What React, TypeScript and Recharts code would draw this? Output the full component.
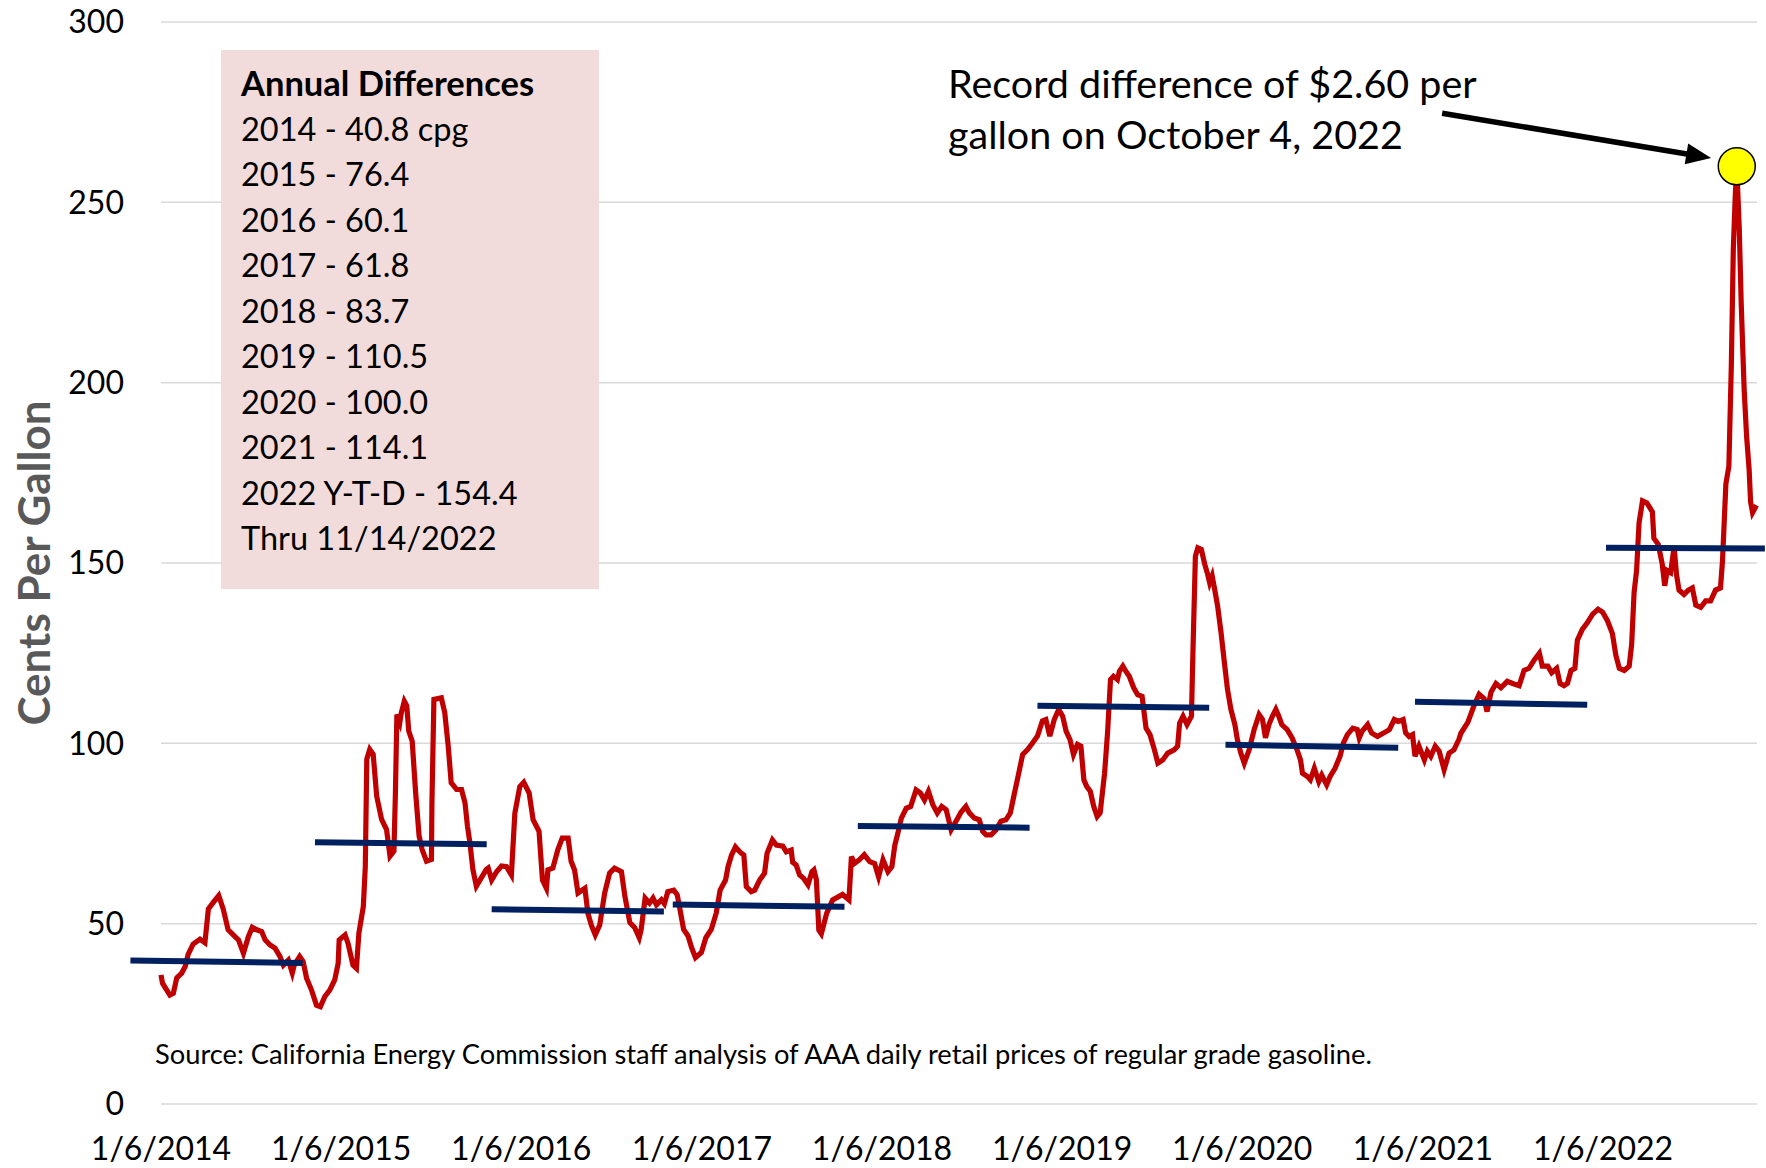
import React from 'react';
import { LineChart, Line, XAxis, YAxis, CartesianGrid, ReferenceLine, ReferenceDot, Label } from 'recharts';

const FONT = 'Lato, "Open Sans", sans-serif';

// x axis: days since 1/6/2014
const xTickDays = [0, 365, 730, 1096, 1461, 1826, 2191, 2557, 2922];
const xTickLabels = ['1/6/2014', '1/6/2015', '1/6/2016', '1/6/2017', '1/6/2018', '1/6/2019', '1/6/2020', '1/6/2021', '1/6/2022'];
const lastDay = 3234; // 11/14/2022
const yTicks = [0, 50, 100, 150, 200, 250, 300];

// [day since 1/6/2014, cents per gallon]
const diff2014: [number, number][] = [
  [0, 35.8], [3, 33.5], [18, 30.2], [25, 30.7], [32, 35.0], [42, 36.3], [49, 38.1], [55, 41.5], [65, 44.3], [79, 45.7],
  [89, 44.7], [96, 54.1], [106, 55.9], [117, 57.8], [126, 54.1], [136, 48.3], [150, 46.4], [157, 45.5], [167, 41.8],
  [177, 46.4], [185, 49.0], [194, 48.3], [204, 47.8], [211, 45.5], [221, 44.1], [231, 43.2], [241, 40.9], [248, 38.5],
  [258, 39.9], [266, 36.3], [270, 38.5], [281, 40.9], [288, 39.5], [295, 34.9], [305, 31.6], [315, 27.4], [323, 27.0],
  [332, 29.8], [342, 31.6], [352, 34.4], [359, 39.0], [361, 45.5],
];
const diff2015: [number, number][] = [
  [373, 46.9], [379, 44.5], [389, 38.5], [396, 37.6], [401, 47.4], [410, 54.8], [414, 65.9], [417, 95.6], [423, 98.3],
  [430, 96.9], [437, 85.4], [447, 78.9], [457, 76.1], [464, 68.7], [472, 70.1], [475, 86.3], [478, 108.0], [484, 105.8],
  [487, 108.5], [493, 111.7], [498, 110.4], [502, 103.4], [509, 100.6], [516, 86.3], [523, 74.3], [529, 70.6], [538, 67.3],
  [548, 67.8], [549, 83.5], [553, 112.2], [568, 112.6], [575, 108.5], [582, 99.2], [588, 89.1], [599, 87.2], [609, 87.2],
  [616, 83.5], [621, 77.0], [626, 72.4], [632, 65.0], [639, 60.4], [649, 62.7], [659, 65.0], [663, 65.4], [670, 62.1],
  [680, 64.4], [690, 66.0], [700, 65.8], [710, 63.5], [717, 80.6], [727, 88.0],
];
const diff2016: [number, number][] = [
  [735, 89.2], [746, 86.2], [754, 78.8], [766, 75.6], [773, 62.1], [781, 59.8], [784, 64.9], [794, 65.4], [804, 70.5],
  [813, 73.7], [825, 73.7], [831, 67.3], [838, 64.9], [845, 58.5], [859, 59.8], [865, 52.9], [872, 49.6], [880, 46.9],
  [889, 49.6], [899, 58.5], [909, 64.0], [919, 65.4], [933, 64.4], [940, 57.6], [950, 50.3], [960, 48.9], [969, 46.1],
  [973, 48.4], [981, 57.1], [990, 55.7], [997, 57.1], [1004, 55.2], [1014, 56.6], [1020, 55.5], [1027, 58.9], [1039, 59.3],
  [1046, 58.0], [1053, 52.9], [1059, 48.4], [1068, 46.6], [1075, 43.4], [1083, 40.6], [1095, 42.0],
];
const diff2017: [number, number][] = [
  [1104, 46.1], [1115, 48.4], [1125, 52.9], [1133, 59.3], [1144, 62.1], [1149, 65.8], [1156, 69.0], [1164, 71.3],
  [1173, 69.9], [1181, 69.0], [1186, 60.3], [1196, 58.9], [1203, 59.3], [1213, 62.1], [1223, 64.0], [1228, 69.5],
  [1239, 73.2], [1247, 71.8], [1260, 71.5], [1267, 69.9], [1277, 70.4], [1280, 67.0], [1287, 66.3], [1294, 63.5],
  [1302, 62.6], [1311, 60.8], [1319, 64.4], [1323, 64.9], [1328, 62.2], [1333, 48.2], [1338, 47.2], [1349, 52.9],
  [1361, 56.6], [1381, 58.1], [1394, 56.6], [1399, 68.6], [1405, 66.7], [1415, 67.7], [1425, 69.1], [1436, 67.2],
  [1446, 66.7], [1454, 63.0],
];
const diff2018: [number, number][] = [
  [1463, 67.7], [1473, 64.4], [1481, 65.8], [1487, 71.8], [1493, 75.0], [1500, 79.2], [1510, 82.0], [1519, 82.5],
  [1530, 87.1], [1539, 86.2], [1547, 84.3], [1555, 86.7], [1564, 83.0], [1573, 80.7], [1582, 82.5], [1591, 81.6],
  [1601, 76.0], [1611, 78.4], [1621, 80.9], [1631, 82.5], [1638, 80.7], [1648, 79.3], [1658, 78.8], [1665, 75.6],
  [1672, 74.6], [1682, 74.6], [1692, 76.0], [1702, 78.4], [1712, 78.8], [1721, 80.7], [1728, 85.3], [1736, 90.4],
  [1746, 96.9], [1756, 98.3], [1766, 100.1], [1776, 102.0], [1786, 106.2], [1793, 106.6], [1801, 102.0], [1810, 106.6],
  [1819, 109.4],
];
const diff2019: [number, number][] = [
  [1827, 107.5], [1834, 103.4], [1842, 101.0], [1849, 96.9], [1857, 99.7], [1864, 99.2], [1870, 89.9], [1876, 88.0],
  [1883, 86.7], [1890, 82.5], [1897, 79.7], [1903, 80.7], [1912, 91.7], [1918, 102.9], [1924, 117.7], [1930, 118.6],
  [1938, 117.7], [1942, 120.0], [1949, 121.4], [1955, 120.0], [1962, 118.6], [1971, 115.4], [1979, 113.5], [1988, 113.0],
  [1996, 104.2], [2004, 102.4], [2013, 98.2], [2020, 94.5], [2030, 95.4], [2040, 97.3], [2053, 98.2], [2060, 99.2],
  [2064, 105.6], [2071, 107.5], [2079, 105.2], [2088, 107.5], [2091, 125.1], [2096, 151.9], [2101, 154.2], [2108, 153.8],
  [2115, 149.6], [2121, 146.8], [2125, 144.5], [2130, 146.4], [2135, 142.7], [2141, 138.1], [2148, 130.7], [2154, 123.3],
  [2161, 115.0], [2168, 109.4], [2176, 105.2], [2181, 101.1], [2188, 97.3],
];
const diff2020: [number, number][] = [
  [2195, 94.5], [2205, 98.2], [2215, 103.8], [2225, 108.0], [2232, 106.6], [2238, 101.5], [2245, 105.2], [2252, 107.5],
  [2259, 109.4], [2265, 107.5], [2271, 105.2], [2282, 103.8], [2292, 101.5], [2302, 98.2], [2309, 95.4], [2313, 91.7],
  [2323, 90.8], [2329, 89.9], [2337, 93.1], [2346, 89.4], [2352, 91.2], [2362, 88.5], [2369, 90.8], [2379, 93.1],
  [2389, 96.4], [2396, 100.1], [2404, 102.4], [2415, 104.2], [2424, 103.8], [2428, 101.5], [2434, 103.4], [2445, 105.2],
  [2453, 102.9], [2465, 101.9], [2478, 102.9], [2489, 103.8], [2499, 106.6], [2507, 106.1], [2517, 106.6], [2522, 102.9],
  [2529, 101.9], [2536, 102.4], [2541, 96.4], [2549, 99.2],
];
const diff2021: [number, number][] = [
  [2560, 95.4], [2566, 97.8], [2573, 96.4], [2582, 99.2], [2590, 97.8], [2600, 92.7], [2610, 97.3], [2620, 98.2],
  [2630, 101.1], [2634, 102.8], [2648, 105.8], [2661, 110.6], [2671, 113.6], [2681, 112.4], [2687, 108.8], [2695, 114.2],
  [2705, 116.6], [2715, 115.4], [2728, 117.2], [2739, 116.6], [2752, 116.0], [2762, 120.2], [2772, 120.8], [2783, 123.2],
  [2793, 125.0], [2799, 121.4], [2810, 121.4], [2818, 119.6], [2828, 120.8], [2835, 116.6], [2843, 116.0], [2850, 116.6],
  [2857, 120.2], [2865, 120.8], [2870, 128.6], [2880, 131.6], [2890, 133.4], [2901, 135.8], [2912, 137.2], [2921, 136.4],
];
const diff2022: [number, number][] = [
  [2931, 134.0], [2941, 130.4], [2948, 124.4], [2955, 120.8], [2965, 120.2], [2975, 121.4], [2980, 127.4], [2985, 141.9],
  [2990, 147.9], [2995, 161.1], [3002, 167.2], [3011, 166.6], [3022, 164.2], [3025, 156.9], [3034, 155.1], [3042, 149.7],
  [3047, 143.7], [3052, 147.9], [3059, 147.3], [3066, 154.5], [3071, 146.7], [3076, 142.5], [3086, 141.3], [3095, 142.5],
  [3103, 143.1], [3110, 138.3], [3120, 137.7], [3130, 139.5], [3140, 139.5], [3150, 142.5], [3160, 143.1], [3164, 150.4],
  [3171, 172.0], [3177, 176.8], [3182, 205.0], [3186, 237.0], [3190, 252.0], [3193, 260.0], [3198, 243.0], [3202, 222.0],
  [3208, 198.0], [3213, 185.0], [3218, 176.0], [3221, 167.0], [3225, 164.0], [3229, 165.0], [3233, 166.0],
];

// Annual average bars as drawn: [startDay, endDay, startValue, endValue]
const annualBars: [number, number, number, number][] = [
  [-62, 287, 39.8, 39.1],
  [312, 660, 72.6, 72.0],
  [670, 1019, 54.0, 53.4],
  [1037, 1385, 55.3, 54.7],
  [1412, 1760, 77.1, 76.6],
  [1776, 2124, 110.4, 109.9],
  [2157, 2507, 99.6, 98.8],
  [2541, 2890, 111.5, 110.7],
  [2928, 3250, 154.2, 154.0],
];

const recordDay = 3193; // 10/4/2022
const recordValue = 260;
const arrowFrom: [number, number] = [2596, 274.7];
const arrowTo: [number, number] = [3141, 262.3];

const boxTitle = 'Annual Differences';
const boxLines = [
  '2014 - 40.8 cpg', '2015 - 76.4', '2016 - 60.1', '2017 - 61.8', '2018 - 83.7',
  '2019 - 110.5', '2020 - 100.0', '2021 - 114.1', '2022 Y-T-D - 154.4', 'Thru 11/14/2022',
];
const annotationLines = ['Record difference of $2.60 per', 'gallon on October 4, 2022'];
const sourceText = 'Source: California Energy Commission staff analysis of AAA daily retail prices of regular grade gasoline.';

const series = [...diff2014, ...diff2015, ...diff2016, ...diff2017, ...diff2018, ...diff2019, ...diff2020, ...diff2021, ...diff2022]
  .map(([day, cpg]) => ({ day, cpg }));

const tickLabel = (d: number) => {
  const i = xTickDays.indexOf(d);
  return i >= 0 ? xTickLabels[i] : '';
};

const Arrow = (p: any) => {
  const { x1, y1, x2, y2 } = p;
  const dx = x2 - x1;
  const dy = y2 - y1;
  const len = Math.sqrt(dx * dx + dy * dy);
  const ux = dx / len;
  const uy = dy / len;
  const headLen = 25;
  const headHalf = 10.5;
  const bx = x2 - ux * headLen;
  const by = y2 - uy * headLen;
  return (
    <g>
      <line x1={x1} y1={y1} x2={bx + ux * 2} y2={by + uy * 2} stroke="#000" strokeWidth={5.5} />
      <polygon
        points={`${x2},${y2} ${bx - uy * headHalf},${by + ux * headHalf} ${bx + uy * headHalf},${by - ux * headHalf}`}
        fill="#000"
      />
    </g>
  );
};

export default function App() {
  return (
    <div style={{ position: 'absolute', left: 0, top: 0, width: 1766, height: 1168, background: '#fff', fontFamily: FONT }}>
      <LineChart width={1766} height={1168} data={series} margin={{ top: 22, right: 9, bottom: 0, left: 0 }}>
        <CartesianGrid vertical={false} stroke="#D9D9D9" strokeWidth={1.5} />
        <XAxis
          dataKey="day"
          type="number"
          domain={[0, lastDay]}
          ticks={xTickDays}
          tickFormatter={tickLabel}
          interval={0}
          axisLine={false}
          tickLine={false}
          height={64}
          tickMargin={27}
          tick={{ fill: '#000', fontSize: 32, fontFamily: FONT }}
        />
        <YAxis
          type="number"
          domain={[0, 300]}
          ticks={yTicks}
          interval={0}
          axisLine={false}
          tickLine={false}
          width={161}
          tickMargin={31}
          tick={{ fill: '#000', fontSize: 32, fontFamily: FONT }}
        >
          <Label
            value="Cents Per Gallon"
            angle={-90}
            position="insideLeft"
            offset={34}
            style={{ textAnchor: 'middle', fontSize: 44, fontWeight: 700, fill: '#595959', fontFamily: FONT }}
          />
        </YAxis>
        <Line type="linear" dataKey="cpg" stroke="#C00000" strokeWidth={5.2} dot={false} isAnimationActive={false} />
        {annualBars.map(([d0, d1, v0, v1], i) => (
          <ReferenceLine
            key={i}
            segment={[{ x: d0, y: v0 }, { x: d1, y: v1 }]}
            stroke="#002060"
            strokeWidth={6}
            ifOverflow="visible"
          />
        ))}
        <ReferenceLine
          segment={[{ x: arrowFrom[0], y: arrowFrom[1] }, { x: arrowTo[0], y: arrowTo[1] }]}
          shape={Arrow}
          ifOverflow="visible"
        />
        <ReferenceDot x={recordDay} y={recordValue} r={18.5} fill="#FFFF00" stroke="#000" strokeWidth={1.5} ifOverflow="visible" />
      </LineChart>

      <div
        style={{
          position: 'absolute', left: 221, top: 50, width: 378, height: 539, background: '#F2DCDB',
          boxSizing: 'border-box', paddingLeft: 20, paddingTop: 10, fontSize: 32.5, lineHeight: '45.5px', color: '#000',
        }}
      >
        <div style={{ fontWeight: 700, fontSize: 34.5 }}>{boxTitle}</div>
        {boxLines.map((t) => (
          <div key={t}>{t}</div>
        ))}
      </div>

      <div style={{ position: 'absolute', left: 948, top: 58, fontSize: 39.5, lineHeight: '50.5px', color: '#000', whiteSpace: 'nowrap' }}>
        {annotationLines.map((t) => (
          <div key={t}>{t}</div>
        ))}
      </div>

      <div style={{ position: 'absolute', left: 155, top: 1039, fontSize: 27.3, lineHeight: '30px', color: '#000', whiteSpace: 'nowrap' }}>
        {sourceText}
      </div>
    </div>
  );
}
